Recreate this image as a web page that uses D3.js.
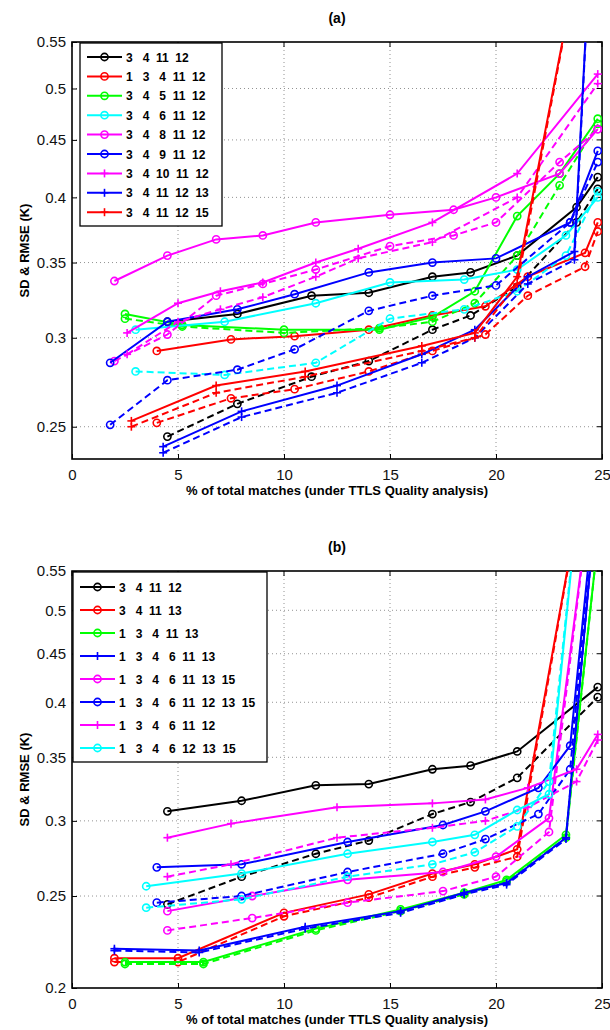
<!DOCTYPE html>
<html>
<head>
<meta charset="utf-8">
<script src="https://cdn.jsdelivr.net/npm/d3@7"></script>
<style>
  body { margin: 0; background: #fff; }
  svg { font-family: Arial, "Liberation Sans", sans-serif; }
  .leg text { white-space: pre; }
</style>
</head>
<body>
<div id="chart"></div>
<script>
// Panel (a) - band combinations
const aSets = [[3,4,11,12],[1,3,4,11,12],[3,4,5,11,12],[3,4,6,11,12],[3,4,8,11,12],
  [3,4,9,11,12],[3,4,10,11,12],[3,4,11,12,13],[3,4,11,12,15]];
const aColors = ['#000','#f00','#0f0','#0ff','#f0f','#00f','#f0f','#00f','#f00'];
const aMarkers = ['o','o','o','o','o','o','+','+','+'];
const aX = [
  [4.5,7.8,11.3,14,17,18.8,21,23.8,24.8],
  [4,7.5,10.5,14,17,19.5,21.5,24.2,24.8],
  [2.5,5.2,10,14.5,17,19,21,23,24.8],
  [3,7.2,11.5,15,18.5,21,23.3,24.8],
  [2,4.5,6.8,9,11.5,15,18,20,23,24.8],
  [1.8,4.5,7.8,10.5,14,17,20,23.5,24.8],
  [2.6,5,7,9,11.5,13.5,17,21,24.8],
  [4.3,8,12.5,16.5,19,21.5,23.7,24.5],
  [2.8,6.8,11,16.5,19,21,24.2]
];
const aSD = [
  [0.310,0.315,0.327,0.329,0.340,0.343,0.355,0.392,0.417],
  [0.292,0.299,0.301,0.305,0.314,0.320,0.340,0.357,0.380],
  [0.315,0.308,0.305,0.305,0.313,0.330,0.385,0.420,0.470],
  [0.305,0.310,0.322,0.336,0.338,0.345,0.370,0.400],
  [0.337,0.355,0.367,0.370,0.380,0.386,0.390,0.400,0.420,0.460],
  [0.285,0.310,0.318,0.328,0.343,0.350,0.353,0.380,0.440],
  [0.303,0.322,0.330,0.336,0.350,0.360,0.380,0.420,0.515],
  [0.240,0.258,0.272,0.290,0.305,0.340,0.358,0.700],
  [0.253,0.272,0.280,0.295,0.303,0.340,0.700]
];
const aRMSE = [
  [0.245,0.262,0.277,0.286,0.305,0.314,0.333,0.380,0.407],
  [0.252,0.265,0.270,0.280,0.292,0.302,0.327,0.347,0.373],
  [0.312,0.307,0.303,0.306,0.310,0.322,0.355,0.410,0.465],
  [0.280,0.278,0.285,0.312,0.318,0.330,0.355,0.405],
  [0.286,0.302,0.327,0.335,0.345,0.362,0.370,0.380,0.430,0.460],
  [0.251,0.275,0.281,0.293,0.317,0.327,0.334,0.380,0.430],
  [0.290,0.310,0.318,0.326,0.340,0.353,0.365,0.400,0.505],
  [0.237,0.255,0.268,0.285,0.300,0.335,0.352,0.700],
  [0.250,0.268,0.277,0.292,0.300,0.335,0.700]
];

// Panel (b)
const bSets = [[3,4,11,12],[3,4,11,13],[1,3,4,11,13],[1,3,4,6,11,13],[1,3,4,6,11,13,15],
  [1,3,4,6,11,12,13,15],[1,3,4,6,11,12],[1,3,4,6,12,13,15]];
const bColors = ['#000','#f00','#0f0','#00f','#f0f','#00f','#f0f','#0ff'];
const bMarkers = ['o','o','o','+','o','o','+','o'];
const bX = [
  [4.5,8,11.5,14,17,18.8,21,24.8],
  [2,5,10,14,17,19,21,24.2],
  [2.5,6.2,11.5,15.5,18.5,20.5,23.3,24.9],
  [2,6,11,15.5,18.5,20.5,23.3,24.85],
  [4.5,8.5,13,17.5,20,22.5,24.6],
  [4,8,13,17.5,19.5,22,23.5,24.8],
  [4.5,7.5,12.5,17,19.5,21.5,23.8,24.8],
  [3.5,8,13,17,19,21,22.5,24]
];
const bSD = [
  [0.307,0.315,0.327,0.328,0.340,0.343,0.355,0.415],
  [0.215,0.215,0.240,0.251,0.264,0.270,0.280,0.700],
  [0.213,0.213,0.231,0.242,0.252,0.260,0.290,0.620],
  [0.220,0.219,0.232,0.241,0.252,0.258,0.288,0.700],
  [0.241,0.250,0.260,0.265,0.275,0.302,0.700],
  [0.268,0.270,0.285,0.297,0.307,0.325,0.360,0.700],
  [0.288,0.298,0.310,0.313,0.316,0.325,0.340,0.370],
  [0.256,0.264,0.277,0.285,0.290,0.308,0.320,0.700]
];
const bRMSE = [
  [0.245,0.262,0.277,0.286,0.305,0.314,0.333,0.405],
  [0.213,0.213,0.238,0.249,0.262,0.268,0.275,0.700],
  [0.212,0.212,0.230,0.241,0.251,0.259,0.288,0.620],
  [0.219,0.218,0.231,0.240,0.251,0.257,0.287,0.700],
  [0.230,0.237,0.246,0.253,0.262,0.292,0.700],
  [0.246,0.250,0.265,0.277,0.287,0.305,0.340,0.700],
  [0.262,0.270,0.288,0.295,0.300,0.310,0.330,0.365],
  [0.243,0.248,0.262,0.270,0.278,0.296,0.330,0.700]
];

const xTicks = [0,5,10,15,20,25];
const aYTicks = [0.25,0.3,0.35,0.4,0.45,0.5,0.55];
const bYTicks = [0.2,0.25,0.3,0.35,0.4,0.45,0.5,0.55];

const W = 610, H = 1030;
const svg = d3.select('#chart').append('svg').attr('width', W).attr('height', H);

// num2str-like label: each number in a 2-wide field, 2 spaces between
function setLabel(nums) {
  return nums.map(n => String(n).padStart(2, ' ')).join('  ').trim();
}

function panel(cfg) {
  const { top, bottom, left, right, yDomain, yTicks, title, sets, colors, markers, xs, sd, rmse, leg, id } = cfg;
  const g = svg.append('g');
  const x = d3.scaleLinear().domain([0, 25]).range([left, right]);
  const y = d3.scaleLog().domain(yDomain).range([bottom, top]);

  g.append('clipPath').attr('id', id).append('rect')
    .attr('x', left).attr('y', top).attr('width', right - left).attr('height', bottom - top);

  // grid
  g.append('g').selectAll('line').data(xTicks.slice(1, -1)).join('line')
    .attr('x1', d => x(d)).attr('x2', d => x(d)).attr('y1', top).attr('y2', bottom)
    .attr('stroke', '#777').attr('stroke-width', 0.8).attr('stroke-dasharray', '1,3');
  g.append('g').selectAll('line').data(yTicks.filter(d => d > yDomain[0] && d < yDomain[1])).join('line')
    .attr('x1', left).attr('x2', right).attr('y1', d => y(d)).attr('y2', d => y(d))
    .attr('stroke', '#777').attr('stroke-width', 0.8).attr('stroke-dasharray', '1,3');

  // axes
  const xAxis = d3.axisBottom(x).tickValues(xTicks).tickSize(-5).tickPadding(10).tickFormat(d3.format('d'));
  const yAxis = d3.axisLeft(y).tickValues(yTicks).tickSize(-5).tickPadding(6).tickFormat(d => String(d));
  const xa = g.append('g').attr('transform', `translate(0,${bottom})`).call(xAxis);
  const ya = g.append('g').attr('transform', `translate(${left},0)`).call(yAxis);
  [xa, ya].forEach(a => {
    a.select('.domain').remove();
    a.selectAll('line').attr('stroke', '#000');
    a.selectAll('text').attr('font-size', 15).attr('fill', '#111').attr('font-family', 'Arial, "Liberation Sans", sans-serif');
  });
  // mirrored ticks on top/right
  g.append('g').selectAll('line').data(xTicks).join('line')
    .attr('x1', d => x(d)).attr('x2', d => x(d)).attr('y1', top).attr('y2', top + 5).attr('stroke', '#000');
  g.append('g').selectAll('line').data(yTicks).join('line')
    .attr('x1', right).attr('x2', right - 5).attr('y1', d => y(d)).attr('y2', d => y(d)).attr('stroke', '#000');

  g.append('rect').attr('x', left).attr('y', top).attr('width', right - left).attr('height', bottom - top)
    .attr('fill', 'none').attr('stroke', '#000').attr('stroke-width', 1.6);

  // series: solid = SD, dashed = RMSE
  const plot = g.append('g').attr('clip-path', `url(#${id})`);
  const line = d3.line().x(d => x(d[0])).y(d => y(d[1]));
  sets.forEach((s, i) => {
    [[sd[i], null], [rmse[i], '7,4']].forEach(([vals, dash]) => {
      const pts = xs[i].map((v, j) => [v, vals[j]]);
      plot.append('path').datum(pts).attr('d', line)
        .attr('fill', 'none').attr('stroke', colors[i]).attr('stroke-width', 2)
        .attr('stroke-dasharray', dash);
      drawMarkers(plot, pts.map(p => [x(p[0]), y(p[1])]), markers[i], colors[i]);
    });
  });

  // title + labels
  svg.append('text').attr('x', (left + right) / 2).attr('y', top - 19).attr('text-anchor', 'middle')
    .attr('font-size', 14).attr('font-weight', 'bold').text(title);
  svg.append('text').attr('x', (left + right) / 2).attr('y', bottom + 36).attr('text-anchor', 'middle')
    .attr('font-size', 13).attr('font-weight', 'bold').text('% of total matches (under TTLS Quality analysis)');
  svg.append('text').attr('transform', `translate(29,${(top + bottom) / 2}) rotate(-90)`)
    .attr('text-anchor', 'middle').attr('font-size', 13).attr('font-weight', 'bold').text('SD & RMSE (K)');

  // legend
  const lg = svg.append('g').attr('class', 'leg');
  lg.append('rect').attr('x', leg.x).attr('y', leg.y).attr('width', leg.w).attr('height', leg.h)
    .attr('fill', '#fff').attr('stroke', '#000').attr('stroke-width', 1.3);
  sets.forEach((s, i) => {
    const cy = leg.y + leg.first + i * leg.step;
    lg.append('line').attr('x1', leg.x + 7).attr('x2', leg.x + 42).attr('y1', cy).attr('y2', cy)
      .attr('stroke', colors[i]).attr('stroke-width', 2);
    drawMarkers(lg, [[leg.x + 24.5, cy]], markers[i], colors[i]);
    lg.append('text').attr('x', leg.x + 46).attr('y', cy + 4.5).attr('font-size', 12)
      .attr('font-weight', 'bold').text(setLabel(s));
  });
}

function drawMarkers(sel, pts, type, color) {
  if (type === 'o') {
    sel.append('g').selectAll('circle').data(pts).join('circle')
      .attr('cx', d => d[0]).attr('cy', d => d[1]).attr('r', 3.6)
      .attr('fill', 'none').attr('stroke', color).attr('stroke-width', 1.6);
  } else {
    const gp = sel.append('g');
    gp.selectAll('.h').data(pts).join('line').attr('x1', d => d[0] - 4).attr('x2', d => d[0] + 4)
      .attr('y1', d => d[1]).attr('y2', d => d[1]).attr('stroke', color).attr('stroke-width', 1.6);
    gp.selectAll('.v').data(pts).join('line').attr('x1', d => d[0]).attr('x2', d => d[0])
      .attr('y1', d => d[1] - 4).attr('y2', d => d[1] + 4).attr('stroke', color).attr('stroke-width', 1.6);
  }
}

panel({ id: 'clipA', top: 42, bottom: 459, left: 72, right: 602, yDomain: [0.234, 0.55], yTicks: aYTicks,
  title: '(a)', sets: aSets, colors: aColors, markers: aMarkers, xs: aX, sd: aSD, rmse: aRMSE,
  leg: { x: 80, y: 43, w: 142, h: 183, first: 14, step: 19.4 } });
panel({ id: 'clipB', top: 571, bottom: 988, left: 72, right: 602, yDomain: [0.2, 0.55], yTicks: bYTicks,
  title: '(b)', sets: bSets, colors: bColors, markers: bMarkers, xs: bX, sd: bSD, rmse: bRMSE,
  leg: { x: 73, y: 572, w: 194, h: 190, first: 15, step: 23 } });
</script>
</body>
</html>
